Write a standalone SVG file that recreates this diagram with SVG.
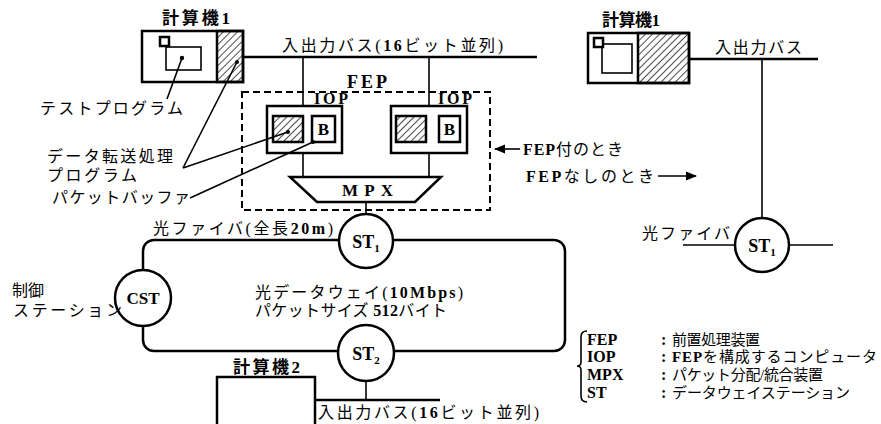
<svg xmlns="http://www.w3.org/2000/svg" width="881" height="424" viewBox="0 0 881 424">
<defs>
<style>
.s{fill:none;stroke:#000;stroke-width:2.5}
.t{fill:none;stroke:#000;stroke-width:1.6}
.w{fill:#fff;stroke:#000;stroke-width:2.5}
.h{fill:url(#hatch);stroke:#000;stroke-width:2.5}
.jp{font-family:"Liberation Serif","Noto Sans CJK JP",serif;font-size:16px;fill:#000}
.b{font-family:"Liberation Serif","Noto Sans CJK JP",serif;font-weight:bold;fill:#000}
.lg{font-family:"Liberation Serif","Noto Sans CJK JP",serif;font-size:15px;fill:#000}
</style>
<pattern id="hatch" patternUnits="userSpaceOnUse" width="5" height="5" patternTransform="rotate(45)">
<line x1="0" y1="0" x2="0" y2="5" stroke="#000" stroke-width="1.4"/>
</pattern>
<marker id="ah" viewBox="0 0 10 10" refX="9" refY="5" markerWidth="7" markerHeight="7" orient="auto">
<path d="M0,1 L10,5 L0,9 Z" fill="#000"/>
</marker>
</defs>
<rect width="881" height="424" fill="#fff"/>

<g id="connectors">
<!-- top bus -->
<line class="s" x1="243" y1="57" x2="537" y2="57"/>
<line class="t" x1="303" y1="57" x2="303" y2="106"/>
<line class="t" x1="429" y1="57" x2="429" y2="106"/>
<line class="t" x1="303" y1="153" x2="303" y2="177"/>
<line class="t" x1="429" y1="153" x2="429" y2="177"/>
<line class="t" x1="366" y1="202" x2="366" y2="214"/>
<!-- loop -->
<rect class="s" x="143" y="240" width="422" height="111" rx="11"/>
<line class="t" x1="366" y1="381" x2="366" y2="400"/>
<line class="s" x1="315" y1="400" x2="440" y2="400"/>
<!-- right side -->
<line class="s" x1="689" y1="59" x2="818" y2="59"/>
<line class="t" x1="762" y1="59" x2="762" y2="218"/>
<line class="t" x1="683" y1="245" x2="735" y2="245"/>
<line class="t" x1="789" y1="245" x2="833" y2="245"/>
<!-- leaders -->
<line class="t" x1="167" y1="99" x2="182" y2="58"/>
<line class="t" x1="183" y1="168" x2="237" y2="62"/>
<line class="t" x1="183" y1="168" x2="288" y2="132"/>
<line class="t" x1="190" y1="198" x2="313" y2="142"/>
<circle cx="182" cy="58" r="2.2"/>
<circle cx="237" cy="62" r="2"/>
<circle cx="288" cy="132" r="2"/>
<circle cx="313" cy="142" r="2"/>
<!-- arrows -->
<line class="t" x1="520" y1="149" x2="495" y2="149" marker-end="url(#ah)"/>
<line class="t" x1="658" y1="176" x2="696" y2="176" marker-end="url(#ah)"/>
</g>

<g id="computer1">
<text class="b" x="162" y="24" font-size="17" textLength="68">計算機1</text>
<rect class="s" x="142" y="31" width="101" height="51"/>
<rect class="h" x="217" y="31" width="26" height="51"/>
<rect class="t" x="166" y="47" width="35" height="23" stroke-width="2.2"/>
<rect class="w" x="160" y="37" width="9" height="9" stroke-width="2"/>
</g>

<g id="fep">
<text class="jp" x="282" y="51" textLength="221">入出力バス(<tspan class="b">16</tspan>ビット並列)</text>
<rect x="242" y="92" width="248" height="118" fill="none" stroke="#000" stroke-width="2" stroke-dasharray="7,4"/>
<text class="b" x="347" y="88" font-size="18" textLength="40">FEP</text>
</g>

<g id="iop1">
<text class="b" x="314" y="104" font-size="16" textLength="34">IOP</text>
<rect class="s" x="267" y="106" width="75" height="47"/>
<rect class="h" x="273" y="116" width="30" height="26"/>
<rect class="s" x="312" y="116" width="23" height="26"/>
<text class="b" x="323.5" y="135" font-size="17" text-anchor="middle">B</text>
</g>

<g id="iop2">
<text class="b" x="438" y="104" font-size="16" textLength="34">IOP</text>
<rect class="s" x="391" y="106" width="76" height="47"/>
<rect class="h" x="396" y="116" width="30" height="26"/>
<rect class="s" x="439" y="116" width="21" height="26"/>
<text class="b" x="449.5" y="135" font-size="17" text-anchor="middle">B</text>
</g>

<g id="mpx">
<polygon class="w" points="290,177 441,177 415,202 317,202"/>
<text class="b" x="342" y="196" font-size="17" textLength="51">MPX</text>
</g>

<g id="labels-left">
<text class="jp" x="40" y="114" textLength="143">テストプログラム</text>
<text class="jp" x="47" y="162" textLength="126">データ転送処理</text>
<text class="jp" x="47" y="181" textLength="90">プログラム</text>
<text class="jp" x="52" y="203" textLength="138">パケットバッファ</text>
</g>

<g id="fep-notes">
<text class="jp" x="523" y="155" font-size="17" textLength="100"><tspan class="b">FEP</tspan>付のとき</text>
<text class="jp" x="526" y="182" font-size="17" textLength="128"><tspan class="b">FEP</tspan>なしのとき</text>
</g>

<g id="st1">
<circle class="w" cx="366" cy="241" r="27"/>
<text class="b" x="366" y="248" font-size="18" text-anchor="middle">ST<tspan font-size="11" dy="4">1</tspan></text>
</g>

<g id="cst">
<circle class="w" cx="143" cy="298" r="28"/>
<text class="b" x="143" y="304" font-size="17" text-anchor="middle">CST</text>
<text class="jp" x="12" y="296" font-size="18">制御</text>
<text class="jp" x="13" y="316" textLength="109">ステーション</text>
</g>

<g id="st2">
<circle class="w" cx="366" cy="353" r="28"/>
<text class="b" x="366" y="360" font-size="18" text-anchor="middle">ST<tspan font-size="11" dy="4">2</tspan></text>
</g>

<g id="loop-labels">
<text class="jp" x="153" y="234" textLength="180">光ファイバ(全長<tspan class="b">20m</tspan>)</text>
<text class="jp" x="255" y="298" textLength="208">光データウェイ(<tspan class="b">10Mbps</tspan>)</text>
<text class="jp" x="255" y="316" textLength="192">パケットサイズ <tspan class="b">512</tspan>バイト</text>
</g>

<g id="computer2">
<text class="b" x="233" y="373" font-size="17" textLength="67">計算機2</text>
<rect class="s" x="217" y="377" width="98" height="52"/>
<text class="jp" x="318" y="418" textLength="221">入出力バス(<tspan class="b">16</tspan>ビット並列)</text>
</g>

<g id="computer1-right">
<text class="b" x="602" y="26" font-size="17" textLength="58">計算機1</text>
<rect class="s" x="588" y="33" width="101" height="50"/>
<rect class="h" x="638" y="33" width="51" height="50"/>
<rect class="t" x="602" y="44" width="30" height="29" stroke-width="2.2"/>
<rect class="w" x="594" y="38" width="9" height="9" stroke-width="2"/>
<text class="jp" x="715" y="53" textLength="87">入出力バス</text>
</g>

<g id="st1-right">
<circle class="w" cx="762" cy="245" r="27"/>
<text class="b" x="762" y="252" font-size="18" text-anchor="middle">ST<tspan font-size="11" dy="4">1</tspan></text>
<text class="jp" x="642" y="239" textLength="88">光ファイバ</text>
</g>

<g id="legend">
<path class="t" d="M587,331 Q581,331 581,337 L581,362 Q581,366 577,366 Q581,366 581,370 L581,396 Q581,402 587,402"/>
<text class="b" x="587" y="345" font-size="16">FEP</text>
<text class="b" x="661" y="345" font-size="16">:</text>
<text class="lg" x="672" y="345" textLength="88">前置処理装置</text>
<text class="b" x="587" y="362" font-size="16">IOP</text>
<text class="b" x="661" y="362" font-size="16">:</text>
<text class="lg" x="672" y="362" textLength="205"><tspan class="b">FEP</tspan>を構成するコンピュータ</text>
<text class="b" x="587" y="380" font-size="16">MPX</text>
<text class="b" x="661" y="380" font-size="16">:</text>
<text class="lg" x="672" y="380" textLength="151">パケット分配/統合装置</text>
<text class="b" x="587" y="398" font-size="16">ST</text>
<text class="b" x="661" y="398" font-size="16">:</text>
<text class="lg" x="672" y="398" textLength="178">データウェイステーション</text>
</g>
</svg>
